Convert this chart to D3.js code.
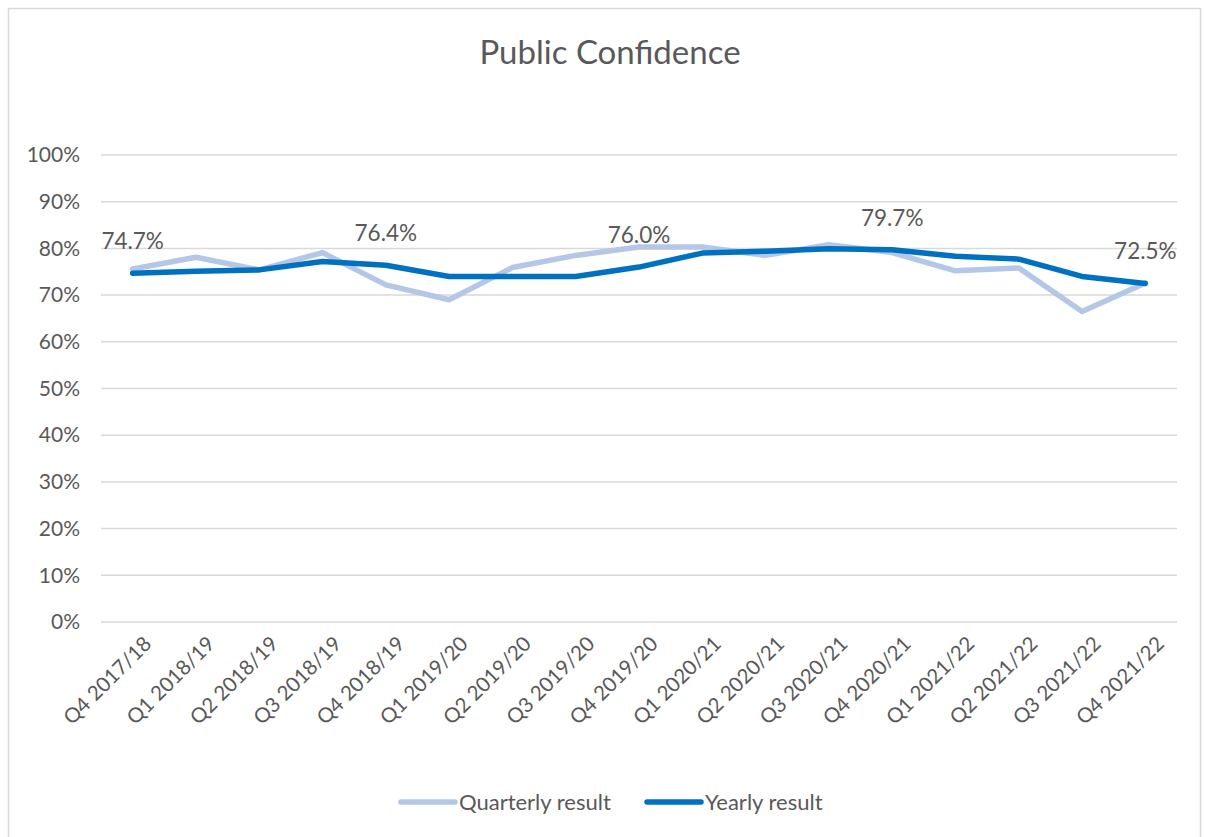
<!DOCTYPE html>
<html>
<head>
<meta charset="utf-8">
<script src="https://cdnjs.cloudflare.com/ajax/libs/d3/7.8.5/d3.min.js"></script>
<style>
  html, body { margin: 0; padding: 0; background: #fff; }
  svg { display: block; }
  text { font-family: Lato, "Open Sans", sans-serif; fill: #595959; }
</style>
</head>
<body>
<svg id="chart" width="1205" height="837"></svg>
<script>
// Quarter labels along the x axis
const quarters = [
  "Q4 2017/18", "Q1 2018/19", "Q2 2018/19", "Q3 2018/19", "Q4 2018/19",
  "Q1 2019/20", "Q2 2019/20", "Q3 2019/20", "Q4 2019/20",
  "Q1 2020/21", "Q2 2020/21", "Q3 2020/21", "Q4 2020/21",
  "Q1 2021/22", "Q2 2021/22", "Q3 2021/22", "Q4 2021/22"
];

// Public confidence, per cent
const quarterly = [75.6, 78.1, 75.4, 79.1, 72.2, 69.0, 75.9, 78.5, 80.3, 80.3, 78.5, 80.8, 79.1, 75.2, 75.8, 66.5, 72.6];
const yearly    = [74.7, 75.1, 75.4, 77.2, 76.4, 74.0, 74.0, 74.0, 76.0, 79.0, 79.4, 79.9, 79.7, 78.3, 77.7, 74.0, 72.5];

// Year-end points whose values are written on the chart
const labelledQuarters = ["Q4 2017/18", "Q4 2018/19", "Q4 2019/20", "Q4 2020/21", "Q4 2021/22"];

const yTicks = [0, 10, 20, 30, 40, 50, 60, 70, 80, 90, 100];

const seriesList = [
  { name: "Quarterly result", values: quarterly, color: "#B4C7E7" },
  { name: "Yearly result",    values: yearly,    color: "#0070C0" }
];

const svg = d3.select("#chart");
const W = 1205, H = 837;
const plot = { left: 101, right: 1177, top: 155, bottom: 622 };

// chart frame
svg.append("path")
  .attr("d", `M8.5,${H} V8.5 H1200.5 V${H}`)
  .attr("fill", "none")
  .attr("stroke", "#D9D9D9")
  .attr("stroke-width", 1.5);

// title
svg.append("text")
  .attr("x", 610).attr("y", 64)
  .attr("text-anchor", "middle")
  .style("font-size", "33px")
  .text("Public Confidence");

const x = d3.scaleBand().domain(quarters).range([plot.left, plot.right]);
const y = d3.scaleLinear().domain([0, 100]).range([plot.bottom, plot.top]);
const cx = q => x(q) + x.bandwidth() / 2;

// horizontal grid lines
svg.append("g").selectAll("line").data(yTicks).join("line")
  .attr("x1", plot.left).attr("x2", plot.right)
  .attr("y1", d => y(d)).attr("y2", d => y(d))
  .attr("stroke", "#D9D9D9").attr("stroke-width", 1.5);

// y axis labels
const yAxis = svg.append("g")
  .attr("transform", `translate(${plot.left},0)`)
  .call(d3.axisLeft(y).tickValues(yTicks).tickFormat(d => d + "%").tickSize(0).tickPadding(21));
yAxis.select(".domain").remove();
yAxis.selectAll("text")
  .style("font-size", "21px")
  .style("font-family", "Lato, sans-serif")
  .attr("fill", "#595959");

// x axis labels, rotated
const xAxis = svg.append("g")
  .attr("transform", `translate(0,${plot.bottom})`)
  .call(d3.axisBottom(x).tickSize(0).tickPadding(0));
xAxis.select(".domain").remove();
xAxis.selectAll("text")
  .style("font-size", "20.5px")
  .style("font-family", "Lato, sans-serif")
  .attr("fill", "#595959")
  .attr("text-anchor", "end")
  .attr("dy", "0.35em")
  .attr("transform", "translate(15,18) rotate(-45)");

// lines
const line = d3.line()
  .x((d, i) => cx(quarters[i]))
  .y(d => y(d));

svg.append("g").selectAll("path").data(seriesList).join("path")
  .attr("d", s => line(s.values))
  .attr("fill", "none")
  .attr("stroke", s => s.color)
  .attr("stroke-width", 5.5)
  .attr("stroke-linejoin", "round")
  .attr("stroke-linecap", "round");

// value labels on the yearly series
svg.append("g").selectAll("text").data(labelledQuarters).join("text")
  .attr("x", q => cx(q))
  .attr("y", q => y(yearly[quarters.indexOf(q)]) - 24)
  .attr("text-anchor", "middle")
  .style("font-size", "22.5px")
  .text(q => yearly[quarters.indexOf(q)].toFixed(1) + "%");

// legend
const legend = svg.append("g").attr("transform", "translate(0,802)");
const legendItems = [
  { s: seriesList[0], x0: 401 },
  { s: seriesList[1], x0: 647 }
];
legendItems.forEach(it => {
  legend.append("line")
    .attr("x1", it.x0).attr("x2", it.x0 + 54)
    .attr("y1", 0).attr("y2", 0)
    .attr("stroke", it.s.color).attr("stroke-width", 5.5)
    .attr("stroke-linecap", "round");
  legend.append("text")
    .attr("x", it.x0 + 58).attr("y", 0)
    .attr("dy", "0.35em")
    .style("font-size", "22px")
    .text(it.s.name);
});
</script>
</body>
</html>
